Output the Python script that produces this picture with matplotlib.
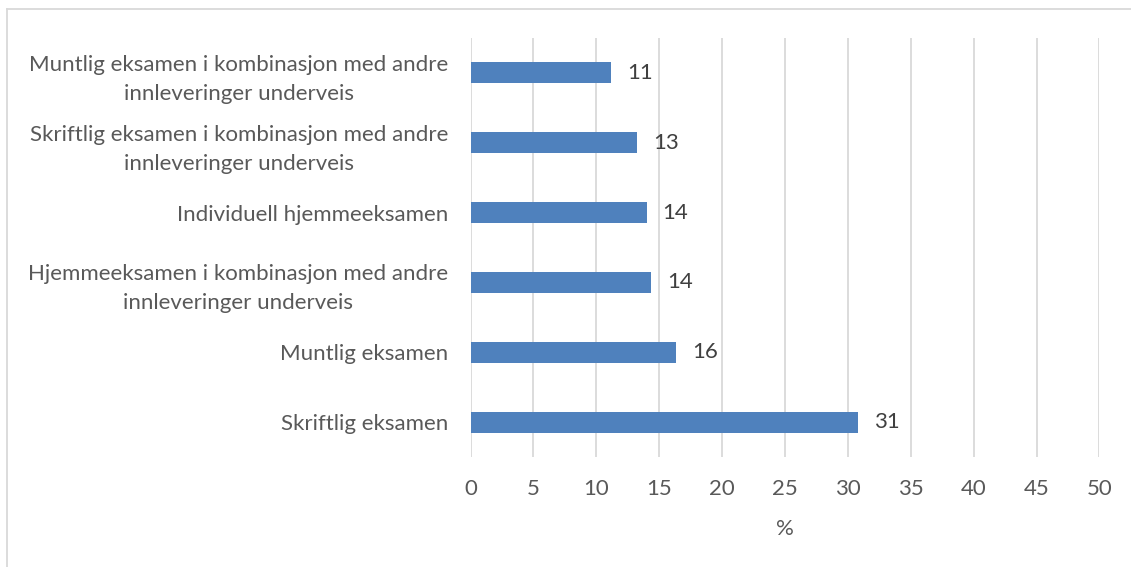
import matplotlib
matplotlib.use('Agg')
import matplotlib.pyplot as plt
from matplotlib.lines import Line2D

# kategorier ovenfra og ned, som i figuren
categories = ['Muntlig eksamen i kombinasjon med andre\ninnleveringer underveis',
              'Skriftlig eksamen i kombinasjon med andre\ninnleveringer underveis',
              'Individuell hjemmeeksamen',
              'Hjemmeeksamen i kombinasjon med andre\ninnleveringer underveis',
              'Muntlig eksamen',
              'Skriftlig eksamen']
values = [11.2, 13.25, 14.0, 14.35, 16.35, 30.8]
value_labels = ['11', '13', '14', '14', '16', '31']
xticks = [0, 5, 10, 15, 20, 25, 30, 35, 40, 45, 50]

plt.rcParams['font.family'] = ['Lato', 'DejaVu Sans']

fig = plt.figure(figsize=(11.31, 5.67), dpi=100)
ax = fig.add_axes([470.5 / 1131, 1 - 457 / 567, 629 / 1131, 419 / 567])

ypos = list(range(len(categories)))[::-1]
ax.barh(ypos, values, height=0.30, color='#4f81bd', zorder=3)
for y, v, lab in zip(ypos, values, value_labels):
    ax.text(v + 1.25, y, lab, va='center', ha='left', fontsize=16, color='#404040')

ax.set_xlim(0, 50)
ax.set_ylim(-0.5, 5.5)
ax.set_xticks(xticks)
ax.set_yticks(ypos)
ax.set_yticklabels(categories, multialignment='center', linespacing=1.55)
ax.tick_params(axis='both', length=0, labelsize=16, labelcolor='#595959')
ax.tick_params(axis='y', pad=16)
ax.tick_params(axis='x', pad=16)
ax.xaxis.grid(True, color='#d9d9d9', linewidth=1.3, zorder=0)
for s in ax.spines.values():
    s.set_visible(False)
ax.set_xlabel('%', fontsize=16, color='#595959', labelpad=14)

# ramme rundt figuren
fig.add_artist(Line2D([7 / 1131, 7 / 1131], [0, 1 - 9 / 567], color='#d9d9d9', lw=1.3))
fig.add_artist(Line2D([7 / 1131, 1], [1 - 9 / 567, 1 - 9 / 567], color='#d9d9d9', lw=1.3))

fig.savefig('out.png', dpi=100)
